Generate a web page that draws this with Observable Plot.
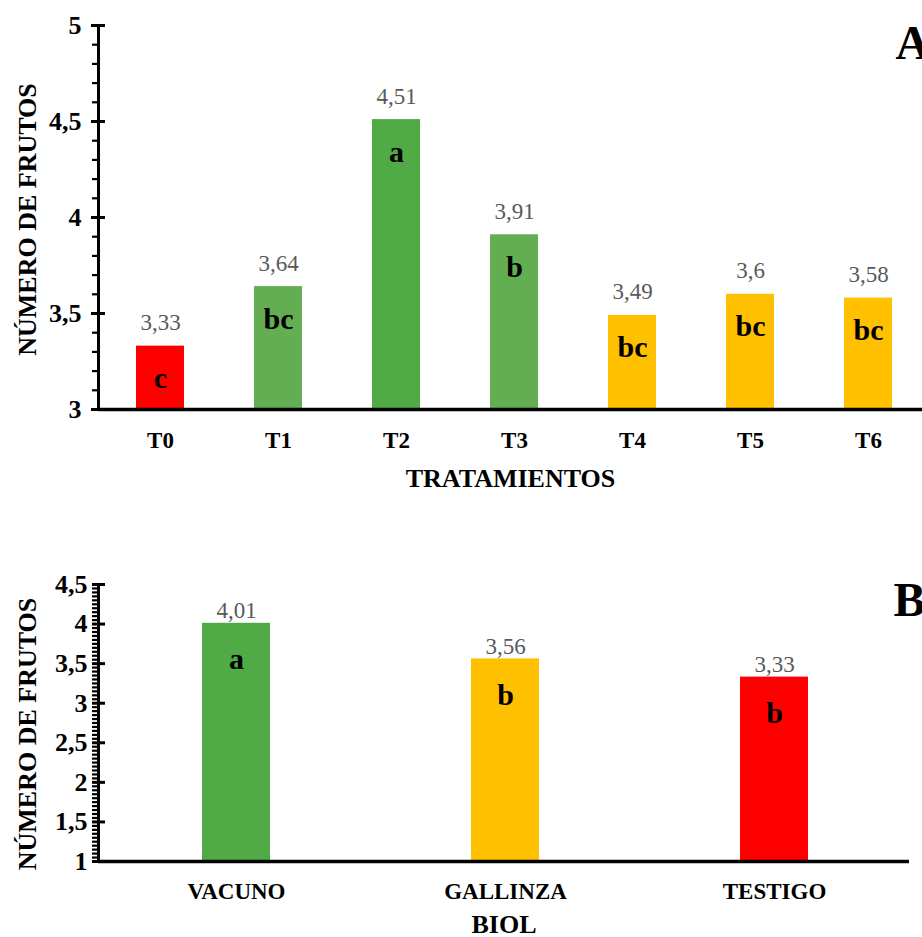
<!DOCTYPE html>
<html><head><meta charset="utf-8">
<script src="https://cdn.jsdelivr.net/npm/d3@7"></script>
<script src="https://cdn.jsdelivr.net/npm/@observablehq/plot@0.6"></script>
<style>
html,body{margin:0;padding:0;background:#fff;overflow:hidden;}
#chart{width:922px;}
#chart svg{display:block;max-width:none;}
#chart svg, #chart svg text, #chart svg g{font-family:"Liberation Serif",Tinos,Times,"DejaVu Serif" !important;}
</style></head><body><div id="chart"></div>
<script>
// Panel A data
const treatments = ["T0","T1","T2","T3","T4","T5","T6"];
const treatmentValues = [3.33,3.64,4.51,3.91,3.49,3.6,3.58];
const treatmentLetters = ["c","bc","a","b","bc","bc","bc"];
const treatmentColors = ["#FF0000","#63AE52","#50AA46","#63AE52","#FFC000","#FFC000","#FFC000"];
const ticksA = [3,3.5,4,4.5,5];

// Panel B data
const biols = ["VACUNO","GALLINZA","TESTIGO"];
const biolValues = [4.01,3.56,3.33];
const biolLetters = ["a","b","b"];
const biolColors = ["#50AA46","#FFC000","#FF0000"];
const ticksB = [1,1.5,2,2.5,3,3.5,4,4.5];

const fmt = d => String(d).replace(".", ",");
const FONT = '"Liberation Serif", Tinos, Times, "DejaVu Serif"';

const dataA = treatments.map((t,i)=>({t, v: treatmentValues[i], letter: treatmentLetters[i], color: treatmentColors[i]}));
const dataB = biols.map((t,i)=>({t, v: biolValues[i], letter: biolLetters[i], color: biolColors[i]}));
const minorA = d3.range(30, 51).map(d => d/10).filter(d => !ticksA.includes(d));
const minorB = d3.range(20, 91).map(d => d/20).filter(d => !ticksB.includes(d));

const chartA = Plot.plot({
  width: 922, height: 500, marginTop: 25, marginBottom: 91, marginLeft: 98, marginRight: 0,
  style: {background: "#fff", fontFamily: FONT},
  x: {domain: treatments, range: [98, 929], paddingInner: 0.596, paddingOuter: 0.298, label: null},
  y: {domain: [3, 5], label: null},
  marks: [
    Plot.barY(dataA, {x: "t", y1: 3, y2: "v", fill: "color"}),
    Plot.ruleY([3], {strokeWidth: 3.5}),
    Plot.frame({anchor: "left", strokeWidth: 3}),
    Plot.axisY({ticks: minorA, tickSize: 8, dx: 2, strokeWidth: 2.2, tickFormat: () => "", label: null}),
    Plot.axisY({ticks: ticksA, tickSize: 14, dx: 7, strokeWidth: 3, tickFormat: () => "", label: null}),
    Plot.axisY({ticks: ticksA, tickSize: 0, tickPadding: 17, tickFormat: fmt, fontSize: 26, fontWeight: "bold", fill: "black", label: null}),
    Plot.axisX({tickSize: 0, tickPadding: 22, fontSize: 23, fontWeight: "bold", fill: "black", label: null}),
    Plot.text(dataA, {x: "t", y: "v", text: d => fmt(d.v), lineAnchor: "bottom", dy: -16, fontSize: 23, fill: "#595959"}),
    Plot.text(dataA, {x: "t", y: "v", text: "letter", lineAnchor: "bottom", dy: 42, fontSize: 30, fontWeight: "bold", fill: "black"}),
    Plot.text(["TRATAMIENTOS"], {text: d => d, frameAnchor: "bottom", textAnchor: "middle", lineAnchor: "bottom", dy: 77, fontSize: 26, fontWeight: "bold", fill: "black"}),
    Plot.text(["NÚMERO DE FRUTOS"], {text: d => d, frameAnchor: "left", textAnchor: "middle", rotate: -90, lineAnchor: "bottom", dx: -63, dy: 2, fontSize: 26, fontWeight: "bold", fill: "black"}),
    Plot.text(["A"], {text: d => d, frameAnchor: "top-right", textAnchor: "start", lineAnchor: "bottom", dx: -27, dy: 33, fontSize: 48, fontWeight: "bold", fill: "black"})
  ]
});

const chartB = Plot.plot({
  width: 922, height: 437, marginTop: 84, marginBottom: 76, marginLeft: 98, marginRight: 13,
  style: {background: "#fff", fontFamily: FONT},
  x: {domain: biols, range: [100, 909], paddingInner: 0.748, paddingOuter: 0.374, label: null},
  y: {domain: [1, 4.5], label: null},
  marks: [
    Plot.barY(dataB, {x: "t", y1: 1, y2: "v", fill: "color"}),
    Plot.ruleY([1], {strokeWidth: 3.5}),
    Plot.frame({anchor: "left", strokeWidth: 3}),
    Plot.axisY({ticks: minorB, tickSize: 8, dx: 2, strokeWidth: 2.2, tickFormat: () => "", label: null}),
    Plot.axisY({ticks: ticksB, tickSize: 13, dx: 7, strokeWidth: 3, tickFormat: () => "", label: null}),
    Plot.axisY({ticks: ticksB, tickSize: 0, tickPadding: 11, tickFormat: fmt, fontSize: 26, fontWeight: "bold", fill: "black", label: null}),
    Plot.axisX({tickSize: 0, tickPadding: 21, fontSize: 23, fontWeight: "bold", fill: "black", label: null}),
    Plot.text(dataB, {x: "t", y: "v", text: d => fmt(d.v), lineAnchor: "bottom", dy: -5, fontSize: 23, fill: "#595959"}),
    Plot.text(dataB, {x: "t", y: "v", text: "letter", lineAnchor: "bottom", dy: 46, fontSize: 30, fontWeight: "bold", fill: "black"}),
    Plot.text(["BIOL"], {text: d => d, frameAnchor: "bottom", textAnchor: "middle", lineAnchor: "bottom", dy: 71, fontSize: 26, fontWeight: "bold", fill: "black"}),
    Plot.text(["NÚMERO DE FRUTOS"], {text: d => d, frameAnchor: "left", textAnchor: "middle", rotate: -90, lineAnchor: "bottom", dx: -63, dy: 11, fontSize: 26, fontWeight: "bold", fill: "black"}),
    Plot.text(["B"], {text: d => d, frameAnchor: "top-right", textAnchor: "start", lineAnchor: "bottom", dx: -16, dy: 31, fontSize: 48, fontWeight: "bold", fill: "black"})
  ]
});

const root = document.getElementById("chart");
root.append(chartA, chartB);
</script></body></html>
